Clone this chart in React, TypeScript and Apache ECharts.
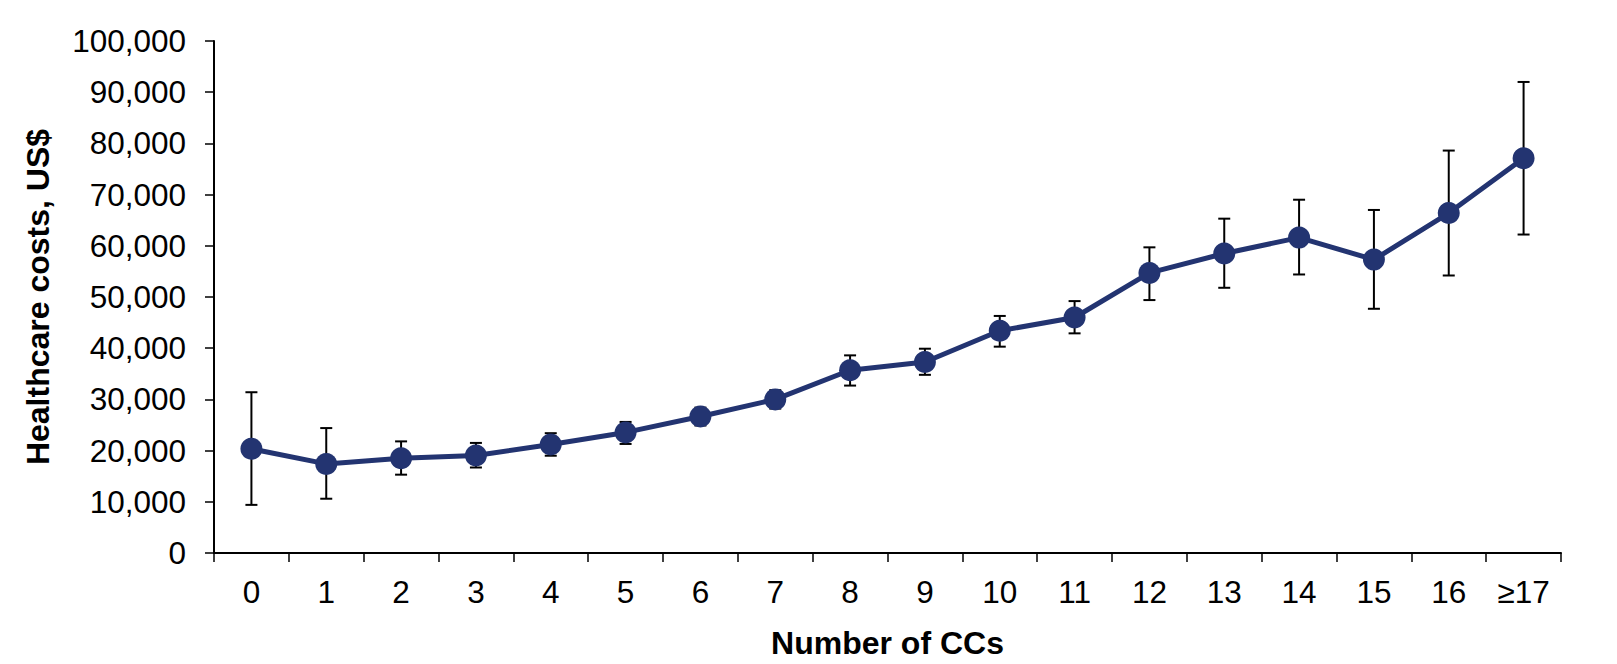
import React, { useEffect, useRef } from "react";
import * as echarts from "echarts";

const categories = ["0", "1", "2", "3", "4", "5", "6", "7", "8", "9", "10", "11", "12", "13", "14", "15", "16", "≥17"];
const meanCosts = [20350, 17400, 18500, 19050, 21200, 23550, 26650, 30000, 35700, 37300, 43400, 46000, 54700, 58500, 61600, 57300, 66400, 77100];
const lowerCI = [9400, 10600, 15300, 16700, 19000, 21300, 24900, 28200, 32700, 34800, 40300, 42900, 49400, 51800, 54400, 47700, 54200, 62200];
const upperCI = [31400, 24400, 21800, 21500, 23400, 25600, 28400, 31800, 38600, 39900, 46300, 49200, 59700, 65300, 69000, 67000, 78600, 92000];
const yTicks = { min: 0, max: 100000, interval: 10000 };

const FONT = "'Liberation Sans', Arial, sans-serif";
const LINE_COLOR = "#233471";

export default function App() {
  const ref = useRef<HTMLDivElement>(null);

  useEffect(() => {
    if (!ref.current) return;
    const chart = echarts.init(ref.current, undefined, { renderer: "svg" });
    const errData = categories.map((_, i) => [i, lowerCI[i], upperCI[i]]);
    chart.setOption({
      animation: false,
      backgroundColor: "#ffffff",
      grid: { left: 214, right: 56, top: 41, bottom: 105, containLabel: false },
      xAxis: {
        type: "category",
        data: categories,
        boundaryGap: true,
        name: "Number of CCs",
        nameLocation: "middle",
        nameGap: 74,
        nameTextStyle: { fontFamily: FONT, fontSize: 32, fontWeight: "bold", color: "#000" },
        axisLine: { lineStyle: { color: "#000", width: 2 } },
        axisTick: { show: true, length: 9, lineStyle: { color: "#000", width: 1.5 } },
        axisLabel: { fontFamily: FONT, fontSize: 31.5, color: "#000", margin: 23, interval: 0 },
        splitLine: { show: false },
      },
      yAxis: {
        type: "value",
        min: yTicks.min,
        max: yTicks.max,
        interval: yTicks.interval,
        name: "Healthcare costs, US$",
        nameLocation: "middle",
        nameGap: 160,
        nameRotate: 90,
        nameTextStyle: { fontFamily: FONT, fontSize: 32, fontWeight: "bold", color: "#000" },
        axisLine: { show: true, lineStyle: { color: "#000", width: 2 } },
        axisTick: { show: true, length: 9, lineStyle: { color: "#000", width: 1.5 } },
        axisLabel: {
          fontFamily: FONT,
          fontSize: 31.5,
          color: "#000",
          margin: 28,
          formatter: (v: number) => v.toLocaleString("en-US"),
        },
        splitLine: { show: false },
      },
      series: [
        {
          type: "custom",
          z: 1,
          silent: true,
          data: errData,
          renderItem: (params: any, api: any) => {
            const x = api.value(0);
            const lo = api.coord([x, api.value(1)]);
            const hi = api.coord([x, api.value(2)]);
            const cap = 6;
            const style = { stroke: "#000", lineWidth: 2 };
            return {
              type: "group",
              children: [
                { type: "line", shape: { x1: lo[0], y1: lo[1], x2: hi[0], y2: hi[1] }, style },
                { type: "line", shape: { x1: hi[0] - cap, y1: hi[1], x2: hi[0] + cap, y2: hi[1] }, style },
                { type: "line", shape: { x1: lo[0] - cap, y1: lo[1], x2: lo[0] + cap, y2: lo[1] }, style },
              ],
            };
          },
        },
        {
          type: "line",
          z: 3,
          data: meanCosts,
          symbol: "circle",
          symbolSize: 22,
          lineStyle: { color: LINE_COLOR, width: 5 },
          itemStyle: { color: LINE_COLOR },
        },
      ],
    });
    return () => chart.dispose();
  }, []);

  return (
    <div
      ref={ref}
      style={{ position: "absolute", left: 0, top: 0, width: 1617, height: 664 }}
    />
  );
}
